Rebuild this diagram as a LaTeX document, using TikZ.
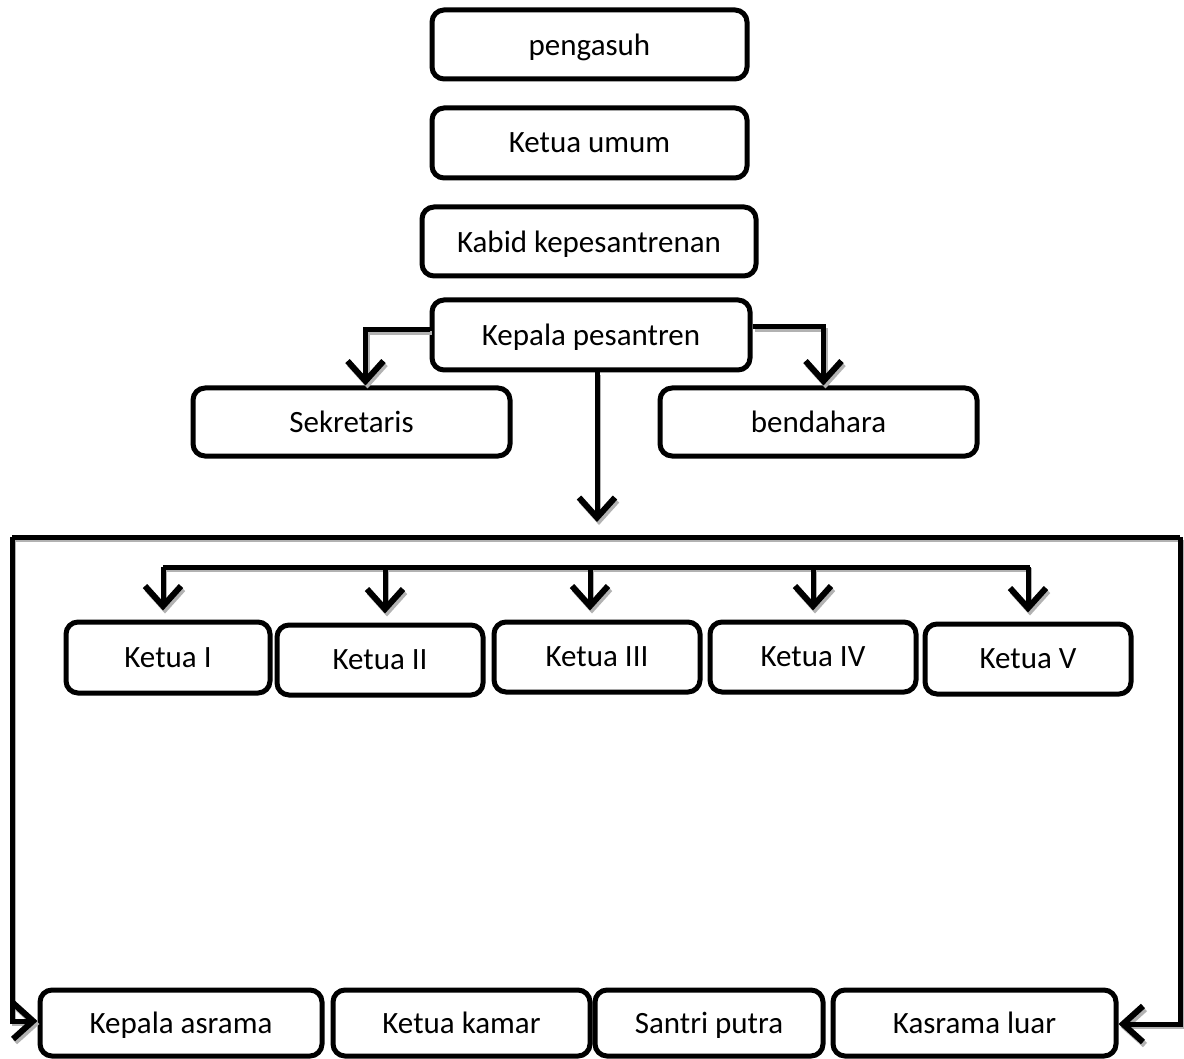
\documentclass[tikz,border=0pt]{standalone}
\usepackage{fontspec}
\setmainfont{Carlito}
\usetikzlibrary{arrows.meta}
\begin{document}
\begin{tikzpicture}[x=1pt,y=-1pt,
  box/.style={draw=black, line width=5pt, rounded corners=12pt, fill=white,
    font=\fontsize{31}{34}\selectfont, inner sep=0pt, align=center, text depth=0pt},
  conn/.style={line width=5pt, -{Straight Barb[length=20pt,width=36pt,line width=6pt]},
    preaction={draw=gray!60, line width=4pt, transform canvas={shift={(2,3)}}}},
  plain/.style={line width=5pt,
    preaction={draw=gray!60, line width=4pt, transform canvas={shift={(2,3)}}}}]
\useasboundingbox (0,0) rectangle (1184,1059);
\fill[white] (0,0) rectangle (1184,1059);

\node[box, minimum width=315pt, minimum height=69pt] (pg) at (589.5,44.5) {pengasuh};
\node[box, minimum width=315pt, minimum height=70pt] (ku) at (589.5,143) {Ketua umum};
\node[box, minimum width=334pt, minimum height=69pt] (kk) at (589,241.5) {Kabid kepesantrenan};
\node[box, minimum width=318pt, minimum height=70pt] (kp) at (591,335) {Kepala pesantren};
\node[box, minimum width=317pt, minimum height=68pt] (sk) at (351.5,422) {Sekretaris};
\node[box, minimum width=317pt, minimum height=68pt] (bd) at (818.5,422) {bendahara};

\node[box, minimum width=204pt, minimum height=71pt] (k1) at (168,657.5) {Ketua I};
\node[box, minimum width=206pt, minimum height=70pt] (k2) at (380,660) {Ketua II};
\node[box, minimum width=206pt, minimum height=70pt] (k3) at (597,657) {Ketua III};
\node[box, minimum width=206pt, minimum height=70pt] (k4) at (813,657) {Ketua IV};
\node[box, minimum width=206pt, minimum height=70pt] (k5) at (1028,659) {Ketua V};

\node[box, minimum width=282pt, minimum height=66pt] (ka) at (181,1023) {Kepala asrama};
\node[box, minimum width=257pt, minimum height=66pt] (km) at (461.5,1023) {Ketua kamar};
\node[box, minimum width=228pt, minimum height=66pt] (sp) at (709,1023) {Santri putra};
\node[box, minimum width=283pt, minimum height=66pt] (kl) at (974.5,1023) {Kasrama luar};

\coordinate (c1) at (597,522);
\coordinate (bl) at (12,537);
\coordinate (br) at (1180,537);
\coordinate (i1) at (163,567);
\coordinate (i5) at (1030,567);

\draw[conn] ([yshift=5pt]kp.west) -| ([xshift=14pt]sk.north);
\draw[conn] ([yshift=8pt]kp.east) -| ([xshift=5pt]bd.north);
\draw[conn] (c1 |- kp.south) -- (c1);
\draw[plain] (bl) -- (br);
\draw[conn] (bl) |- ([yshift=2pt]ka.west);
\draw[conn] (br) |- ([yshift=-1pt]kl.east);
\draw[plain] (i1) -- (i5);
\draw[conn, shorten >=9pt] (i1) -- (i1 |- k1.north);
\draw[conn, shorten >=9pt] ([xshift=5pt]i1 -| k2.north) -- ([xshift=5pt]k2.north);
\draw[conn, shorten >=9pt] ([xshift=-7pt]i1 -| k3.north) -- ([xshift=-7pt]k3.north);
\draw[conn, shorten >=9pt] (i1 -| k4.north) -- (k4.north);
\draw[conn, shorten >=9pt] (i1 -| k5.north) -- (k5.north);
\end{tikzpicture}
\end{document}
